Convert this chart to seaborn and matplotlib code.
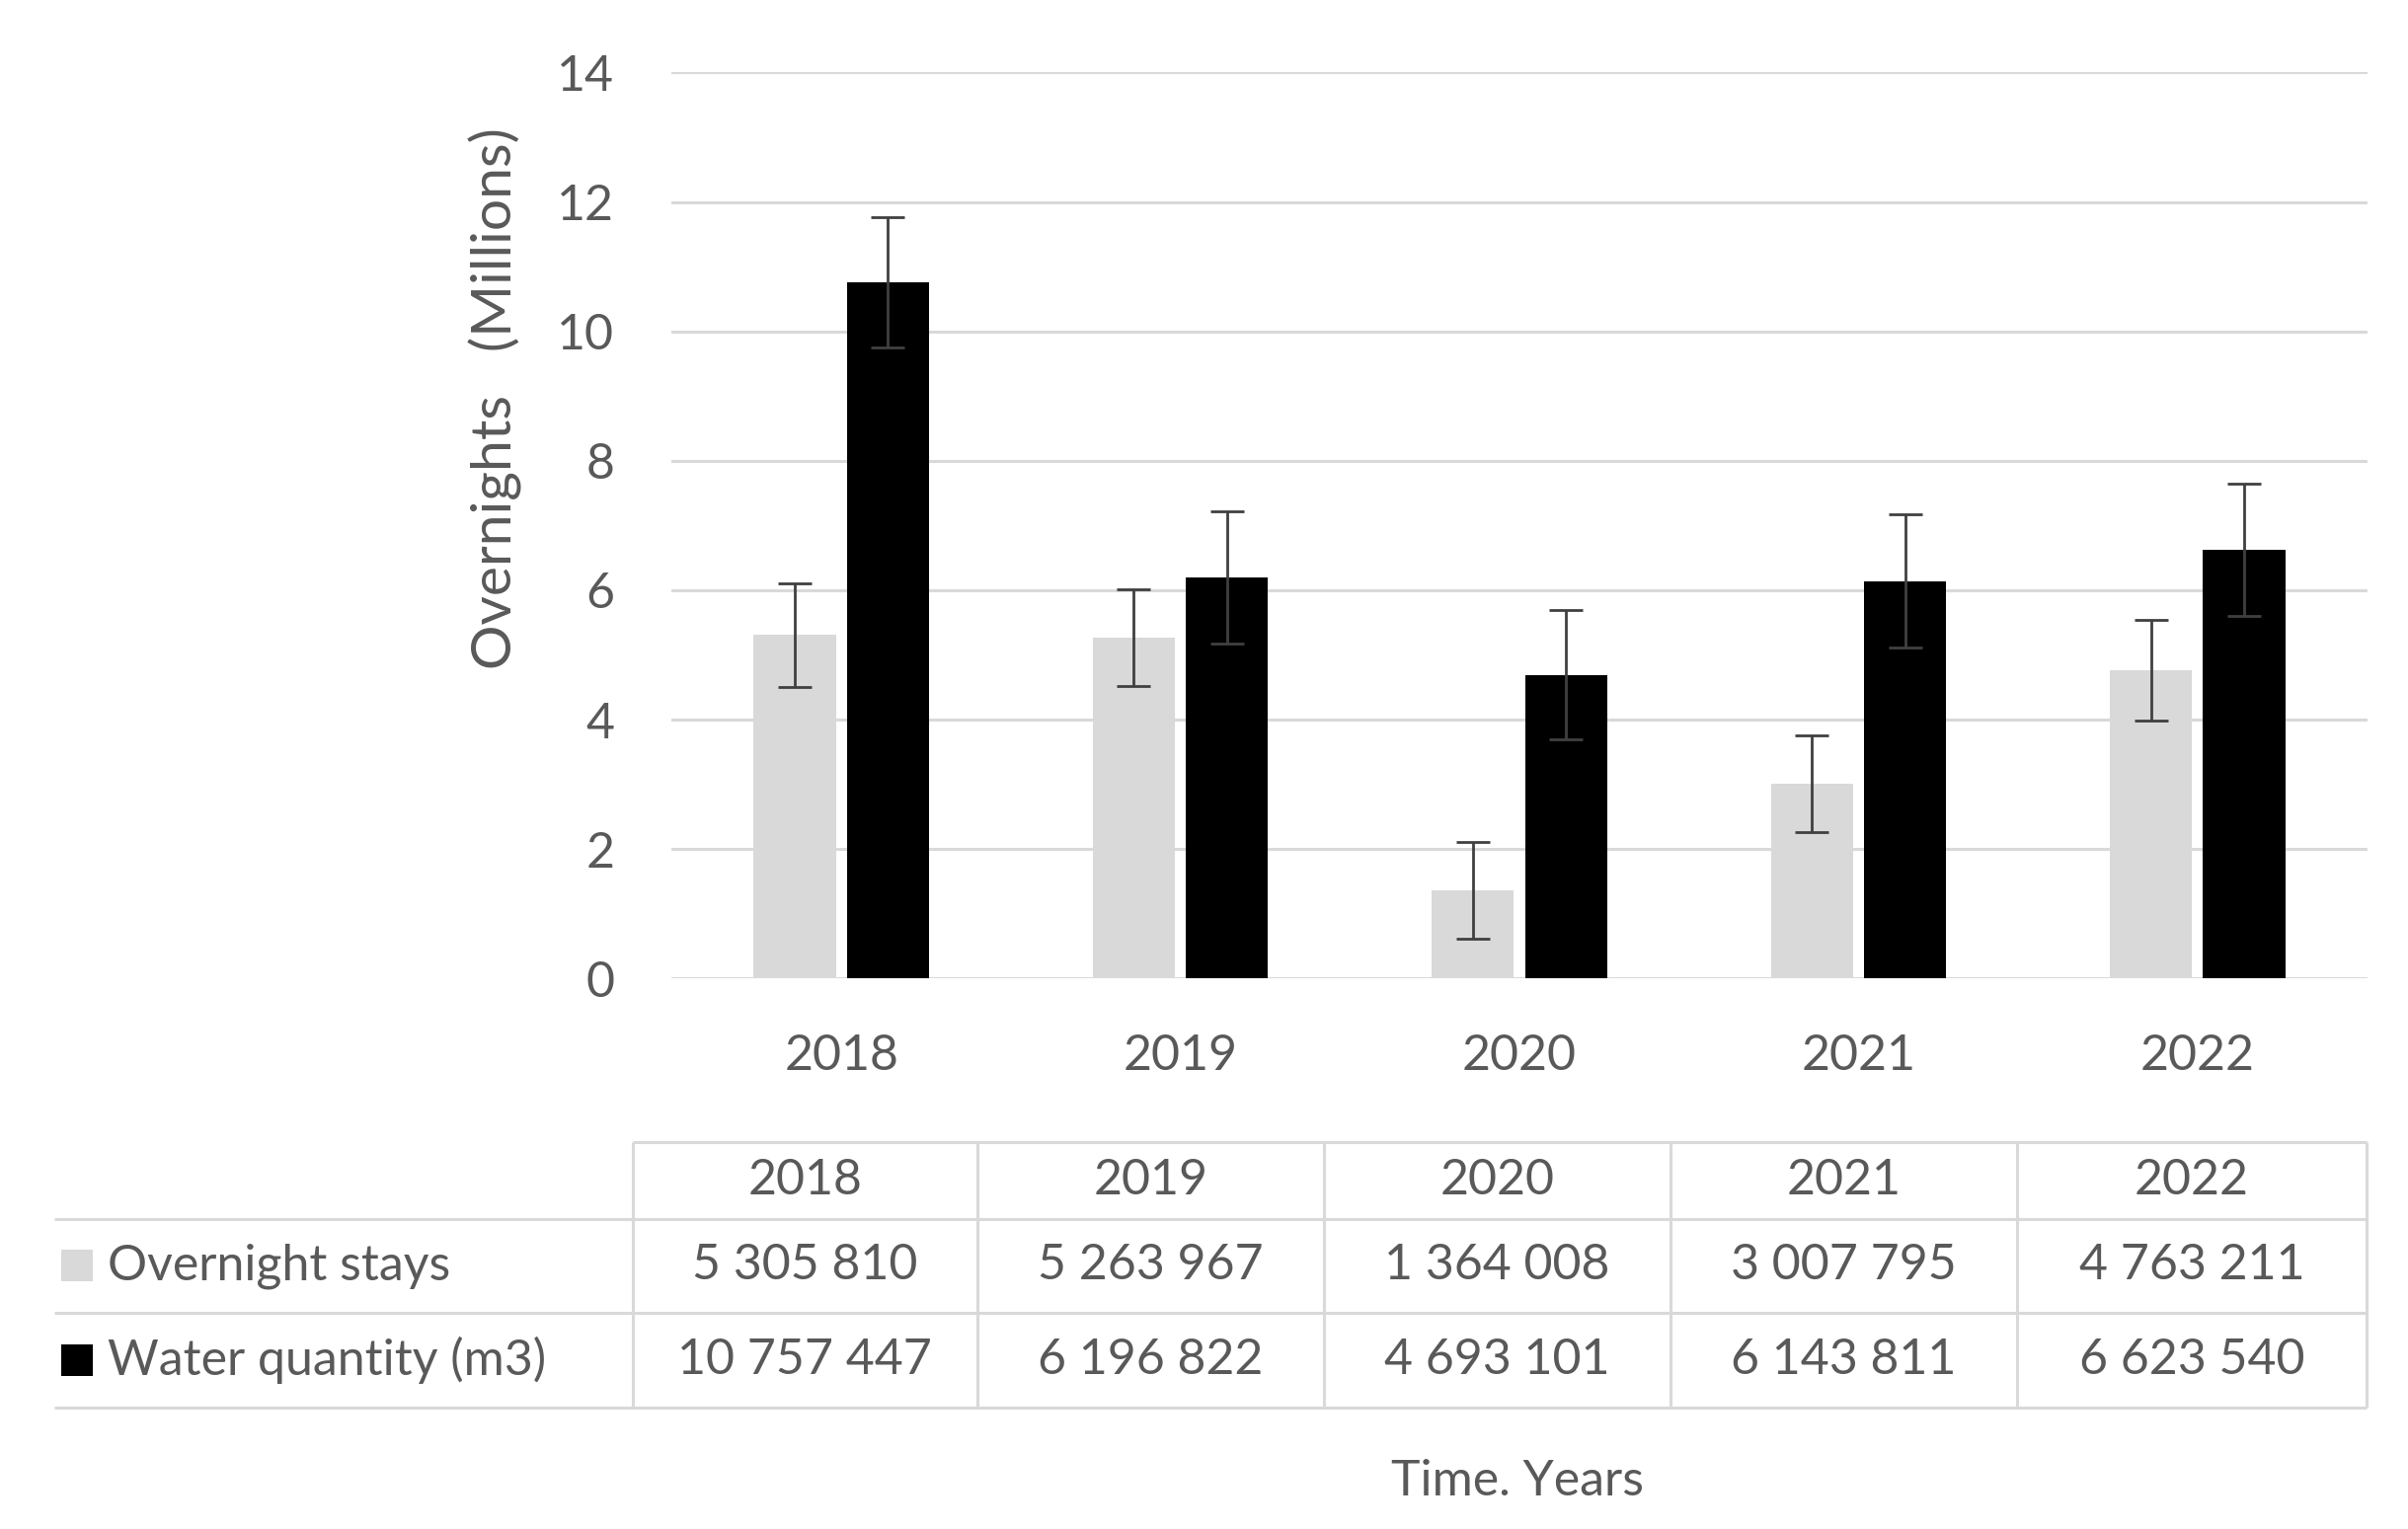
import numpy as np
import pandas as pd
import seaborn as sns
import matplotlib.pyplot as plt

sns.set_theme(style="white")
plt.rcParams['font.family'] = ['Lato', 'DejaVu Sans']

years = ["2018", "2019", "2020", "2021", "2022"]
series = ["Overnight stays", "Water quantity (m3)"]
overnight_stays = [5305810, 5263967, 1364008, 3007795, 4763211]
water_quantity = [10757447, 6196822, 4693101, 6143811, 6623540]
# error bar half-lengths (millions)
err_stays = [0.80, 0.75, 0.75, 0.75, 0.78]
err_water = [1.00, 1.02, 1.00, 1.03, 1.02]
table_stays = ["5 305 810", "5 263 967", "1 364 008", "3 007 795", "4 763 211"]
table_water = ["10 757 447", "6 196 822", "4 693 101", "6 143 811", "6 623 540"]

colors = {"Overnight stays": "#d9d9d9", "Water quantity (m3)": "#000000"}
text_col = "#595959"
grid_col = "#d9d9d9"
fs = 36

df = pd.DataFrame({
    "Year": years * 2,
    "Series": [series[0]] * 5 + [series[1]] * 5,
    "Value": [v / 1e6 for v in overnight_stays] + [v / 1e6 for v in water_quantity],
})

fig = plt.figure(figsize=(24.39, 15.49), dpi=100)
ax = fig.add_axes([0.279, 0.360, 0.704, 0.5926])

sns.barplot(data=df, x="Year", y="Value", hue="Series", palette=colors,
            width=0.55, gap=0.12, linewidth=0, legend=False, ax=ax)

for cont, errs in zip(ax.containers, [err_stays, err_water]):
    xs = [b.get_x() + b.get_width() / 2 for b in cont]
    hs = [b.get_height() for b in cont]
    ax.errorbar(xs, hs, yerr=errs, fmt="none", ecolor="#404040",
                elinewidth=2.0, capsize=12, capthick=2.0, zorder=5)

ax.set_ylim(0, 14)
ax.set_xlim(-0.5, 4.5)
ax.set_yticks(range(0, 15, 2))
ax.yaxis.grid(True, color=grid_col, linewidth=2.2)
ax.set_axisbelow(True)
for s in ax.spines.values():
    s.set_visible(False)
ax.tick_params(axis="both", length=0, labelsize=fs, labelcolor=text_col)
ax.tick_params(axis="y", pad=42)
ax.tick_params(axis="x", pad=40)
ax.set_xlabel("")
ax.set_ylabel("Overnights   (Millions)", fontsize=41, color=text_col)
ax.yaxis.set_label_coords(-0.088, 0.64)

# data table under the chart
tab = fig.add_axes([0, 0, 1, 1])
tab.set_xlim(0, 1)
tab.set_ylim(0, 1)
tab.axis("off")
col_x = np.array([410, 633, 858, 1082, 1307, 1533]) / 1560
row_y = [(991 - y) / 991 for y in (740, 790, 851, 912)]
left_x = 35 / 1560
lw = 2.2
tab.hlines(row_y[0], col_x[0], col_x[-1], color=grid_col, linewidth=lw)
for y in row_y[1:]:
    tab.hlines(y, left_x, col_x[-1], color=grid_col, linewidth=lw)
tab.vlines(col_x, row_y[-1], row_y[0], color=grid_col, linewidth=lw)

centers = (col_x[:-1] + col_x[1:]) / 2
rows = [years, table_stays, table_water]
for r, vals in enumerate(rows):
    yc = (row_y[r] + row_y[r + 1]) / 2
    for xc, v in zip(centers, vals):
        tab.text(xc, yc, v, ha="center", va="center", fontsize=fs, color=text_col)

for r, (name, vals) in enumerate(zip(series, [table_stays, table_water]), start=1):
    yc = (row_y[r] + row_y[r + 1]) / 2
    tab.scatter([50 / 1560], [yc], marker="s", s=500, color=colors[name], linewidths=0)
    tab.text(70 / 1560, yc, name, ha="left", va="center", fontsize=fs, color=text_col)

fig.text(0.630, 0.031, "Time. Years", ha="center", va="center", fontsize=fs, color=text_col)

fig.savefig("out.png", dpi=100, facecolor="white")
